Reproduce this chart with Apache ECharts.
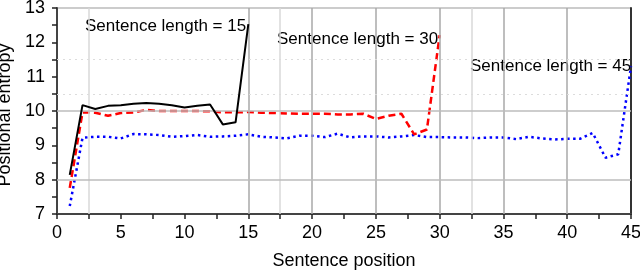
<!DOCTYPE html>
<html>
<head>
<meta charset="utf-8">
<script src="https://cdn.jsdelivr.net/npm/echarts@6/dist/echarts.min.js"></script>
<style>html,body{margin:0;padding:0;background:#fff}#c{width:640px;height:273px}</style>
</head>
<body>
<div id="c"></div>
<script>
// Data
var len15 = [8.14, 10.17, 10.06, 10.15, 10.17, 10.21, 10.23, 10.21, 10.17, 10.10, 10.15, 10.19, 9.61, 9.67, 12.53];
var len30 = [7.76, 9.96, 9.95, 9.86, 9.94, 9.96, 10.03, 10.00, 10.00, 10.00, 10.00, 9.99, 9.96, 9.96, 9.97,
             9.95, 9.94, 9.93, 9.92, 9.92, 9.92, 9.90, 9.90, 9.92, 9.77, 9.86, 9.92, 9.32, 9.46, 12.21];
var len45 = [7.23, 9.22, 9.25, 9.25, 9.20, 9.33, 9.32, 9.30, 9.25, 9.27, 9.30, 9.25, 9.26, 9.28, 9.32,
             9.25, 9.23, 9.20, 9.28, 9.28, 9.24, 9.34, 9.23, 9.26, 9.26, 9.23, 9.26, 9.30, 9.24, 9.24,
             9.23, 9.23, 9.21, 9.23, 9.23, 9.18, 9.25, 9.20, 9.17, 9.19, 9.19, 9.36, 8.64, 8.74, 11.30];
var seriesNames = ['Sentence length = 15', 'Sentence length = 30', 'Sentence length = 45'];
var xTitle = 'Sentence position';
var yTitle = 'Positional entropy';
var vGridDark = [15, 20, 25, 30, 35, 40];
var vGridLight = [2.5, 17.5, 32.5];
var hGridSolid = [8, 10];
var hGridDotted = [10.5, 11.5];

function pairs(arr) { return arr.map(function (v, i) { return [i + 1, v]; }); }

var font = 'Liberation Sans, Arial, sans-serif';
var chart = echarts.init(document.getElementById('c'), null, { renderer: 'canvas' });

var gridLines = [];
vGridDark.forEach(function (v) { gridLines.push({ xAxis: v, lineStyle: { color: '#a8a8a8', width: 1.5, type: 'solid' } }); });
vGridLight.forEach(function (v) { gridLines.push({ xAxis: v, lineStyle: { color: '#d8d8d8', width: 1.5, type: 'solid' } }); });
hGridSolid.forEach(function (v) { gridLines.push({ yAxis: v, lineStyle: { color: '#bdbdbd', width: 1.5, type: 'solid' } }); });
hGridDotted.forEach(function (v) { gridLines.push({ yAxis: v, lineStyle: { color: '#dcdcdc', width: 1, type: [2, 4] } }); });

chart.setOption({
  animation: false,
  grid: { left: 57, right: 9, top: 8, bottom: 59, containLabel: false, outerBoundsMode: 'none',
          show: true, borderColor: '#999', borderWidth: 1 },
  xAxis: {
    type: 'value', min: 0, max: 45, interval: 5,
    name: xTitle, nameLocation: 'middle', nameGap: 38,
    nameTextStyle: { fontFamily: font, fontSize: 18, color: '#000' },
    axisLine: { show: true, lineStyle: { color: '#444', width: 2 } },
    axisTick: { show: true, inside: false, length: 5, lineStyle: { color: '#222', width: 1.5 } },
    minorTick: { show: true, splitNumber: 2, length: 5, lineStyle: { color: '#222', width: 1.5 } },
    splitLine: { show: false },
    axisLabel: { fontFamily: font, fontSize: 18, color: '#000', margin: 10 }
  },
  yAxis: [{
    type: 'value', min: 7, max: 13, interval: 1,
    name: yTitle, nameLocation: 'middle', nameGap: 38, nameRotate: 90,
    nameTextStyle: { fontFamily: font, fontSize: 18, color: '#000', padding: [0, 8, 0, 0] },
    axisLine: { show: true, lineStyle: { color: '#444', width: 2 } },
    axisTick: { show: true, inside: false, length: 5, lineStyle: { color: '#222', width: 1.5 } },
    minorTick: { show: true, splitNumber: 2, length: 5, lineStyle: { color: '#222', width: 1.5 } },
    splitLine: { show: false },
    axisLabel: { fontFamily: font, fontSize: 18, color: '#000', margin: 12 }
  }, {
    type: 'value', min: 7, max: 13, position: 'right',
    axisLine: { show: true, lineStyle: { color: '#333', width: 2 } },
    axisTick: { show: false }, axisLabel: { show: false }, splitLine: { show: false }
  }],
  series: [
    { type: 'line', name: 'grid', data: [], z: 1, silent: true,
      markLine: { silent: true, symbol: 'none', label: { show: false }, animation: false, data: gridLines } },
    { type: 'line', name: seriesNames[0], data: pairs(len15), showSymbol: false, z: 5,
      lineStyle: { color: '#000', width: 2 } },
    { type: 'line', name: seriesNames[1], data: pairs(len30), showSymbol: false, z: 4,
      lineStyle: { color: '#ff0000', width: 2.5, type: [7, 4] } },
    { type: 'line', name: seriesNames[2], data: pairs(len45), showSymbol: false, z: 3,
      lineStyle: { color: '#0000ff', width: 2.5, type: [2.5, 3.5] } }
  ],
  graphic: [
    { type: 'text', left: 85, top: 18, style: { text: seriesNames[0], font: '17px ' + font, fill: '#000' } },
    { type: 'text', left: 277, top: 31, style: { text: seriesNames[1], font: '17px ' + font, fill: '#000' } },
    { type: 'text', left: 470, top: 58, style: { text: seriesNames[2], font: '17px ' + font, fill: '#000' } }
  ]
});
</script>
</body>
</html>
